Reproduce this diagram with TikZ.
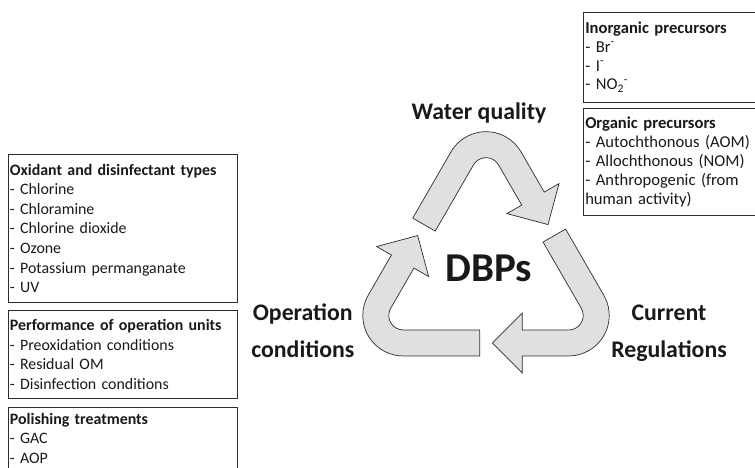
\documentclass[tikz,border=0pt]{standalone}
\usepackage{fontspec}
\setmainfont{Carlito}
\definecolor{bandgray}{RGB}{224,224,224}
\definecolor{edgegray}{RGB}{45,45,45}

\begin{document}
\begin{tikzpicture}[x=1pt, y=1pt,
    every node/.style={text=black!90},
    infobox/.style={draw=edgegray, line width=0.9pt, anchor=north west, align=left,
      inner xsep=1.5pt, inner ysep=0pt, text width=#1},
    biglabel/.style={font=\fontsize{23.8}{37}\selectfont\bfseries, align=center, anchor=base},
    recyc/.style={draw=edgegray, line width=0.7pt, fill=bandgray, line join=miter}]
    \useasboundingbox (0,0) rectangle (755,468);

    % recycling arrows, one per corner of the triangle
    \foreach \a in {0,-120,-240} {
      \begin{scope}[shift={(486,200.3)}, rotate=\a, shift={(210:150.5)}]
        \draw[recyc] (124,-13) -- (47.63,-13) arc[start angle=-90, end angle=-210, radius=40.5]
          -- (35.74,87.9) -- (21.02,96.4) -- (62,107.4) -- (72.98,66.4) -- (58.26,74.9)
          -- (35.07,34.75) arc[start angle=150, end angle=270, radius=14.5] -- (124,13) -- cycle;
      \end{scope}
    }

    \node[font=\fontsize{41}{41}\selectfont\bfseries, anchor=base] (dbps) at (488.7,186.3) {DBPs};
    \node[biglabel] (wq) at (479,348) {Water quality};
    % base anchor sits on the last line
    \node[biglabel] (opcond) at (302.8,110) {Operation\\conditions};
    \node[biglabel] (curreg) at (669,110) {Current\\Regulations};

    % left boxes
    \begin{scope}[every node/.append style={font=\fontsize{15.9}{19.6}\selectfont}]
      \node[infobox=225.7pt, minimum height=148pt] (oxid) at (8,314)
        {\textbf{Oxidant and disinfectant types}\\- Chlorine\\- Chloramine\\- Chlorine dioxide\\- Ozone\\- Potassium permanganate\\- UV};
      \node[infobox=225.7pt, minimum height=88.3pt] (perf) at (8,158)
        {\textbf{Performance of operation units}\\- Preoxidation conditions\\- Residual OM\\- Disinfection conditions};
      \node[infobox=225.7pt, minimum height=62pt] (polish) at (8,61)
        {\textbf{Polishing treatments}\\- GAC\\- AOP};
    \end{scope}

    % right boxes
    \begin{scope}[every node/.append style={font=\fontsize{16.6}{18.8}\selectfont}]
      \node[infobox=174pt, minimum height=90pt] (inorg) at (583.3,456.3)
        {\textbf{Inorganic precursors}\\- Br\textsuperscript{-}\\- I\textsuperscript{-}\\- NO\textsubscript{2}\textsuperscript{-}};
      \node[infobox=174pt, minimum height=107pt] (organic) at (583.3,360)
        {\textbf{Organic precursors}\\- Autochthonous (AOM)\\- Allochthonous (NOM)\\- Anthropogenic (from\\human activity)};
    \end{scope}
\end{tikzpicture}
\end{document}
